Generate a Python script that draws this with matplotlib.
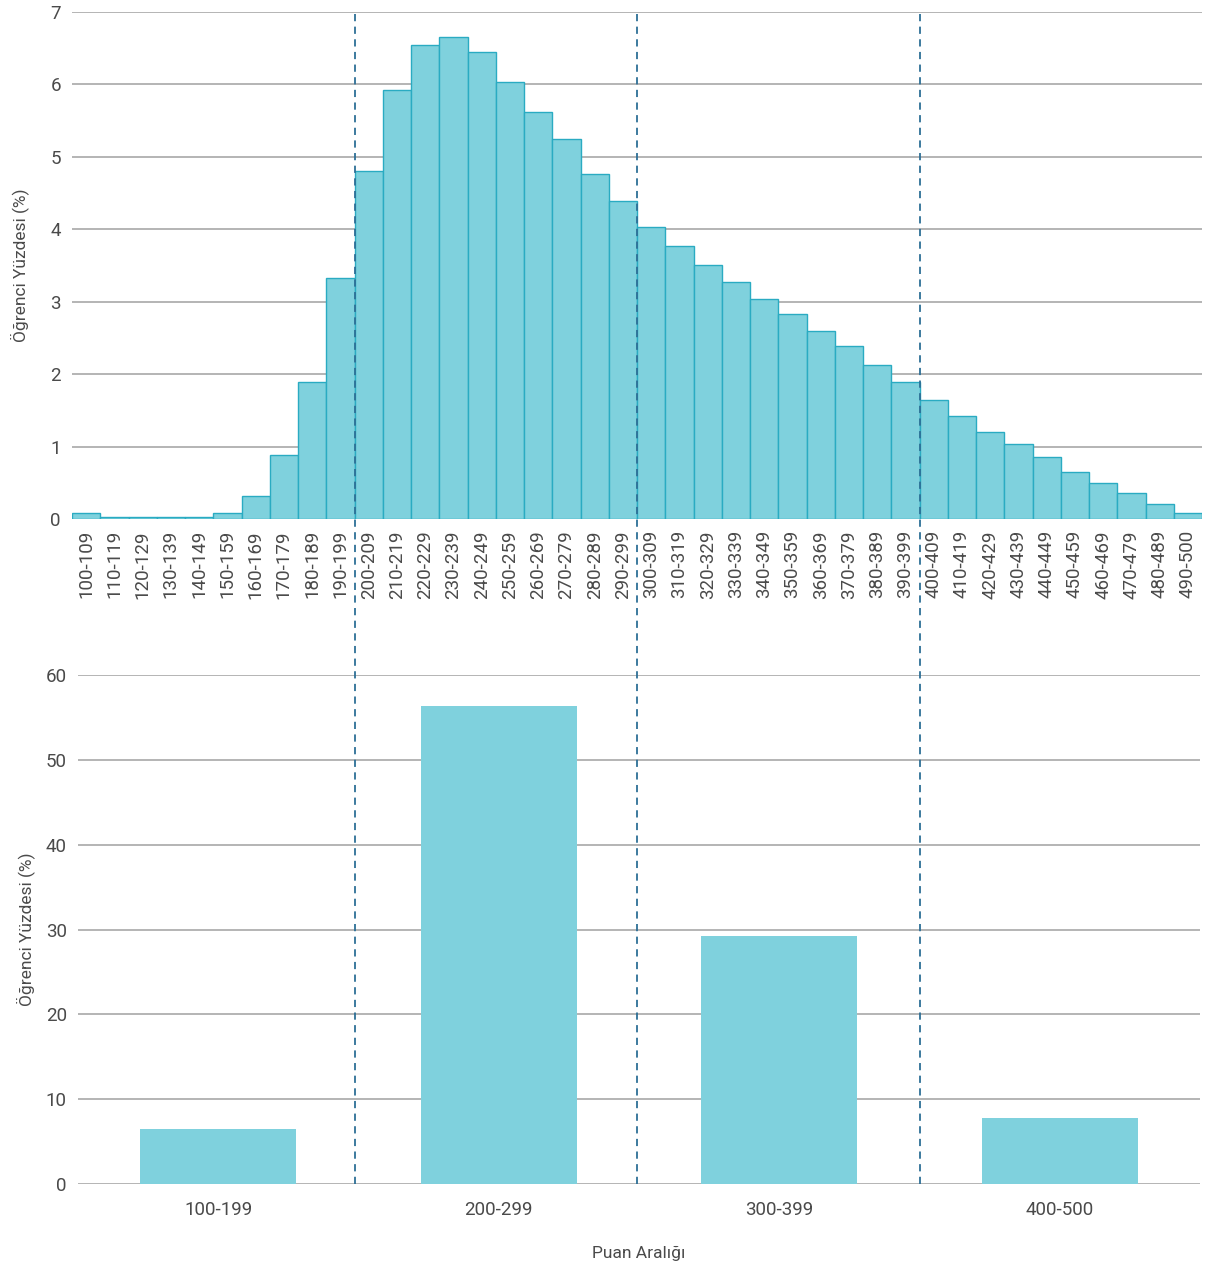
import matplotlib.pyplot as plt
from matplotlib.lines import Line2D
from matplotlib import transforms

plt.rcParams['font.family'] = ['Roboto', 'DejaVu Sans']

# --- Datos ---
bins = [f"{a}-{a + 9}" for a in range(100, 490, 10)] + ["490-500"]
bin_pct = [0.08, 0.03, 0.03, 0.03, 0.03, 0.08, 0.32, 0.88, 1.89, 3.33,
           4.80, 5.92, 6.54, 6.65, 6.45, 6.03, 5.62, 5.25, 4.76, 4.39,
           4.03, 3.77, 3.51, 3.27, 3.04, 2.83, 2.60, 2.39, 2.13, 1.89,
           1.64, 1.42, 1.20, 1.03, 0.86, 0.65, 0.50, 0.36, 0.21, 0.08]
groups = ["100-199", "200-299", "300-399", "400-500"]
group_pct = [6.5, 56.3, 29.2, 7.8]

fill = "#7fd1dd"
edge = "#2aabc2"
dash_col = "#2d6f96"
grid_col = "#a8a8a8"
txt = "#4a4a4a"

fig = plt.figure(figsize=(12.13, 12.70), dpi=100)
ax1 = fig.add_axes([0.0594, 0.5913, 0.9316, 0.3993])
ax2 = fig.add_axes([0.0643, 0.0677, 0.9250, 0.4008])

# --- Histograma superior ---
x1 = range(len(bins))
ax1.bar(x1, bin_pct, width=1.0, color=fill, edgecolor=edge, linewidth=1.0, zorder=3)
ax1.set_xlim(-0.5, len(bins) - 0.5)
ax1.set_ylim(0, 7)
ax1.set_yticks(range(0, 8))
ax1.set_xticks(list(x1))
ax1.set_xticklabels(bins, rotation=90)
ax1.set_ylabel("Öğrenci Yüzdesi (%)", fontsize=12.5, color=txt)
ax1.yaxis.set_label_coords(-0.038, 0.5)

# --- Barras por grupo ---
x2 = range(len(groups))
ax2.bar(x2, group_pct, width=0.555, color=fill, zorder=3)
ax2.set_xlim(-0.5, len(groups) - 0.5)
ax2.set_ylim(0, 60)
ax2.set_yticks(range(0, 61, 10))
ax2.set_xticks(list(x2))
ax2.set_xticklabels(groups)
ax2.set_ylabel("Öğrenci Yüzdesi (%)", fontsize=12.5, color=txt)
ax2.yaxis.set_label_coords(-0.038, 0.5)
ax2.set_xlabel("Puan Aralığı", fontsize=12.5, color=txt, labelpad=20)

for ax in (ax1, ax2):
    for s in ax.spines.values():
        s.set_visible(False)
    ax.yaxis.grid(True, color=grid_col, linewidth=1.2, zorder=0)
    ax.set_axisbelow(True)
    ax.tick_params(length=0, labelsize=13.5, colors=txt)
ax1.tick_params(axis="x", pad=8)
ax1.tick_params(axis="y", pad=8)
ax2.tick_params(axis="x", pad=12)
ax2.tick_params(axis="y", pad=8)

# --- Líneas discontinuas entre grupos ---
trans = transforms.blended_transform_factory(ax1.transData, fig.transFigure)
for xb in [9.5, 19.5, 29.5]:
    fig.add_artist(Line2D([xb, xb], [0.0677, 0.992], transform=trans,
                          color=dash_col, linestyle=(0, (4, 3)), linewidth=1.3, zorder=5))

fig.savefig("out.png", dpi=100)
